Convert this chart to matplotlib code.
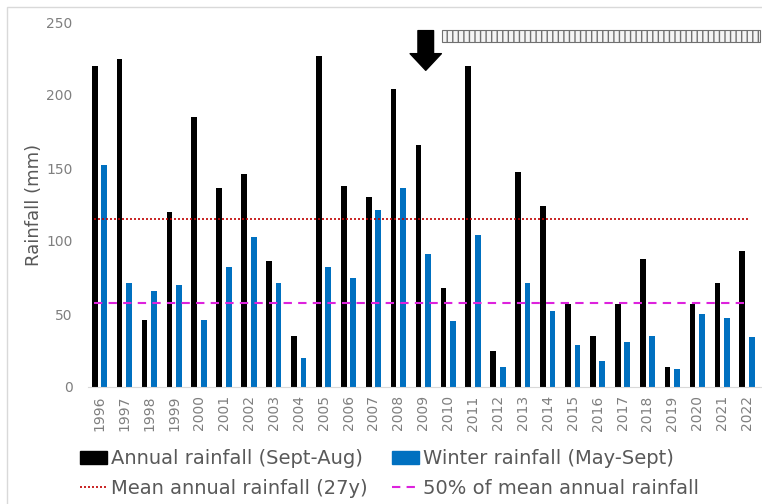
import numpy as np
import matplotlib
matplotlib.use('Agg')
import matplotlib.pyplot as plt
from matplotlib.patches import Rectangle
from matplotlib.lines import Line2D
from matplotlib.patches import Patch

years = list(range(1996, 2023))
annual = [220, 225, 46, 120, 185, 136, 146, 86, 35, 227, 138, 130, 204, 166,
          68, 220, 25, 147, 124, 57, 35, 57, 88, 14, 57, 71, 93]
winter = [152, 71, 66, 70, 46, 82, 103, 71, 20, 82, 75, 121, 136, 91,
          45, 104, 14, 71, 52, 29, 18, 31, 35, 12, 50, 47, 34]
mean_annual = 115
half_mean = mean_annual / 2

grey = '#595959'
tick_grey = '#7f7f7f'
W, H = 762, 504
fig = plt.figure(figsize=(W / 100, H / 100), dpi=100)

# thin frame around the whole chart
fig.patches.append(Rectangle((7 / W, -0.01), 1.0, 1 - 7 / H + 0.01,
                             transform=fig.transFigure, fill=False,
                             edgecolor='#d9d9d9', linewidth=1))

ax = fig.add_axes([88 / W, 1 - 387 / H, (762 - 88) / W, (387 - 22) / H])
x = np.arange(len(years))
ax.bar(x - 0.19, annual, width=0.23, color='black')
ax.bar(x + 0.19, winter, width=0.23, color='#0070C0')

ax.hlines(mean_annual, -0.2, 26.1, colors='#C00000', linestyles=(0, (1.2, 1.2)), linewidth=1.2)
ax.hlines(half_mean, -0.2, 26.1, colors='#DD22DD', linestyles=(0, (4, 3)), linewidth=1.5)

ax.set_xlim(-0.46, 26.6)
ax.set_ylim(0, 250)
ax.set_yticks([0, 50, 100, 150, 200, 250])
ax.set_xticks(x)
ax.set_xticklabels([str(y) for y in years], rotation=90)
ax.tick_params(axis='both', length=0, colors=tick_grey, labelsize=10)
ax.tick_params(axis='y', pad=11)
ax.tick_params(axis='x', pad=6)
for side in ['top', 'right', 'left']:
    ax.spines[side].set_visible(False)
ax.spines['bottom'].set_color('#d9d9d9')
ax.set_ylabel('Rainfall (mm)', fontsize=13, color=grey)
ax.yaxis.set_label_coords(-0.067, 0.5)

# drought onset arrow and period bar
ax.annotate('', xy=(13.1, 215), xytext=(13.1, 246),
            arrowprops=dict(arrowstyle='simple,head_width=1.5,head_length=0.8,tail_width=0.75',
                            color='black', mutation_scale=15), annotation_clip=False)
ax.add_patch(Rectangle((13.75, 236.3), 12.75, 8.3, facecolor='#f4f4f4',
                       edgecolor='#707070', hatch='|||', linewidth=0.8,
                       clip_on=False))

handles = [Patch(color='black'), Patch(color='#0070C0'),
           Line2D([], [], color='#C00000', linestyle=(0, (1.2, 1.2)), linewidth=1.2),
           Line2D([], [], color='#DD22DD', linestyle=(0, (4, 3)), linewidth=1.5)]
labels = ['Annual rainfall (Sept-Aug)', 'Winter rainfall (May-Sept)',
          'Mean annual rainfall (27y)', '50% of mean annual rainfall']
leg = fig.legend([handles[0], handles[2], handles[1], handles[3]],
                 [labels[0], labels[2], labels[1], labels[3]],
                 ncol=2, loc='lower left', bbox_to_anchor=(80 / W, 6 / H),
                 frameon=False, fontsize=14, handlelength=1.4, handletextpad=0.2,
                 columnspacing=1.25, labelspacing=0.55, borderpad=0, borderaxespad=0)
for t in leg.get_texts():
    t.set_color(grey)

fig.savefig('out.png', dpi=100)
